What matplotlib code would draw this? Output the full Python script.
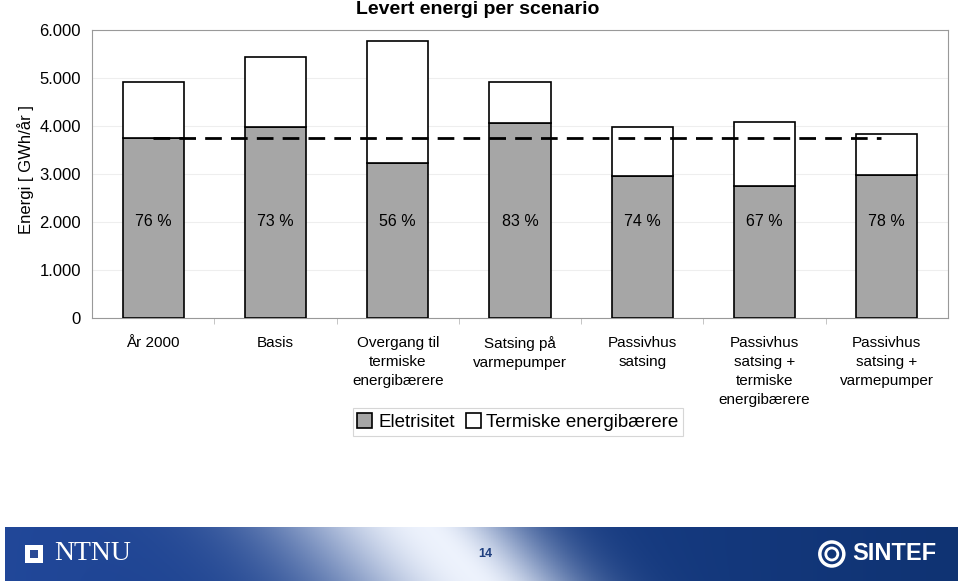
import numpy as np
import matplotlib.pyplot as plt
from matplotlib.patches import Rectangle, Ellipse

plt.rcParams['font.family'] = ['Liberation Sans', 'DejaVu Sans']

# Levert energi per scenario (GWh/år)
categories = ['År 2000', 'Basis', 'Overgang til\ntermiske\nenergibærere',
              'Satsing på\nvarmepumper', 'Passivhus\nsatsing',
              'Passivhus\nsatsing +\ntermiske\nenergibærere',
              'Passivhus\nsatsing +\nvarmepumper']
elektrisitet = [3750, 3980, 3230, 4060, 2960, 2750, 2980]
termiske = [1170, 1460, 2540, 860, 1020, 1330, 850]
andel = ['76 %', '73 %', '56 %', '83 %', '74 %', '67 %', '78 %']
referanse = 3750
yticks = [0, 1000, 2000, 3000, 4000, 5000, 6000]
yticklabels = ['0', '1.000', '2.000', '3.000', '4.000', '5.000', '6.000']

fig = plt.figure(figsize=(9.6, 5.84), dpi=100)
ax = fig.add_axes([92 / 960, 1 - 318 / 584, 856 / 960, 288 / 584])

x = np.arange(len(categories))
b1 = ax.bar(x, elektrisitet, width=0.5, color='#a6a6a6', edgecolor='black',
            linewidth=1.2, label='Eletrisitet', zorder=3)
b2 = ax.bar(x, termiske, width=0.5, bottom=elektrisitet, color='white',
            edgecolor='black', linewidth=1.2, label='Termiske energibærere', zorder=3)
ax.plot([0, 5.95], [referanse, referanse], color='black', linestyle=(0, (6, 3.3)),
        linewidth=2, zorder=4)

for i, t in enumerate(andel):
    ax.text(i, 2000, t, ha='center', va='center', fontsize=11.5, zorder=5)

ax.set_xlim(-0.5, 6.5)
ax.set_ylim(0, 6000)
ax.set_yticks(yticks)
ax.set_yticklabels(yticklabels, fontsize=12)
ax.tick_params(axis='y', length=0, pad=8)
ax.set_xticks(x)
ax.set_xticklabels(categories, fontsize=11, va='top', linespacing=1.45)
ax.tick_params(axis='x', length=0, pad=13)
ax.set_xticks(np.arange(0.5, 6.5, 1), minor=True)
ax.tick_params(axis='x', which='minor', length=4, color='#bbbbbb')
ax.grid(axis='y', color='#eeeeee', linewidth=0.8, zorder=0)
for s in ax.spines.values():
    s.set_color('#999999')
ax.set_ylabel('Energi [ GWh/år ]', fontsize=12)
ax.yaxis.set_label_coords(-0.068, 0.514)

fig.text(478 / 960, 1 - 9 / 584, 'Levert energi per scenario', ha='center',
         va='center', fontsize=14, fontweight='bold')

leg = fig.legend(handles=[b1, b2], loc='center', bbox_to_anchor=(518 / 960, 1 - 422 / 584),
                 ncol=2, fontsize=13.5, frameon=True, fancybox=False, handlelength=0.8,
                 handleheight=0.8, handletextpad=0.3, columnspacing=0.6,
                 borderpad=0.25)
leg.get_frame().set_edgecolor('#cccccc')
leg.get_frame().set_linewidth(0.8)

# footer band
fax = fig.add_axes([5 / 960, 3 / 584, 952 / 960, 54 / 584])
gx = np.linspace(0, 1, 400)
gy = np.linspace(0, 1, 40)
GX, GY = np.meshgrid(gx, gy)
band = np.zeros((40, 400, 3))
c_dark = np.array([0.13, 0.28, 0.6])
c_dark2 = np.array([0.06, 0.2, 0.45])
c_light = np.array([0.93, 0.95, 0.99])
d = GX - 0.47 + (GY - 0.5) * 0.05
w = np.where(d < 0, np.exp(-(d / 0.16) ** 2), np.exp(-(d / 0.1) ** 2))
for k in range(3):
    base = c_dark[k] * (1 - gx) + c_dark2[k] * gx
    band[:, :, k] = base * (1 - w) + c_light[k] * w
fax.imshow(band, aspect='auto', extent=[0, 1, 0, 1], origin='lower')
fax.set_xlim(0, 1)
fax.set_ylim(0, 1)
fax.set_axis_off()
fax.add_patch(Rectangle((0.021, 0.33), 0.019, 0.34, facecolor='white', edgecolor='none'))
fax.add_patch(Rectangle((0.026, 0.42), 0.009, 0.16, facecolor='#2a4a95', edgecolor='none'))
fax.text(0.052, 0.5, 'NTNU', color='white', fontsize=20, va='center',
         family=['Liberation Serif', 'DejaVu Serif'])
fax.text(0.497, 0.5, '14', color='#1f3f7f', fontsize=9, fontweight='bold', va='center')
fax.text(0.978, 0.5, 'SINTEF', color='white', fontsize=17, fontweight='bold',
         va='center', ha='right')
fax.add_patch(Ellipse((0.8685, 0.5), 24 / 952, 24 / 54, facecolor='none',
                      edgecolor='white', linewidth=2.5))
fax.add_patch(Ellipse((0.8685, 0.5), 12 / 952, 12 / 54, facecolor='none',
                      edgecolor='white', linewidth=2))

fig.savefig('out.png', dpi=100)
